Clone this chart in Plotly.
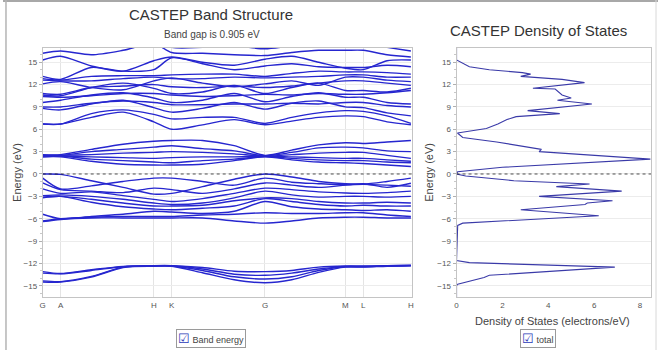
import plotly.graph_objects as go

W, H = 660, 350

# ---------------- data ----------------
# k-path sample positions (path length units) and high-symmetry labels
kpos = [0, 18, 49, 81, 112, 130, 161, 193, 224, 251, 278, 305, 323, 347, 371]
sym_k = [0, 18, 112, 130, 224, 305, 323, 371]
sym_labels = ["G", "A", "H", "K", "G", "M", "L", "H"]

# semicore bands (eV)
semicore_bands = [
    [-13.1, -13.35, -12.85, -12.4, -12.3, -12.3, -12.55, -13.05, -13.1, -12.95, -12.5, -12.35, -12.35, -12.3, -12.25],
    [-13.3, -13.4, -12.95, -12.45, -12.32, -12.32, -12.75, -13.45, -13.6, -13.3, -12.75, -12.4, -12.4, -12.32, -12.28],
    [-14.35, -14.45, -13.75, -12.5, -12.35, -12.35, -12.95, -13.8, -14.1, -13.8, -12.95, -12.45, -12.45, -12.35, -12.3],
    [-14.5, -14.5, -13.85, -12.55, -12.38, -12.38, -13.25, -14.2, -14.6, -14.2, -13.2, -12.5, -12.5, -12.38, -12.32],
]

# valence bands (eV)
valence_bands = [
    [0.0, -0.05, -0.9, -1.8, -2.7, -2.6, -1.7, -0.7, 0.0, -0.4, -1.0, -1.3, -1.35, -1.0, -0.55],
    [-0.55, -2.0, -1.6, -1.0, -0.55, -0.55, -1.0, -1.5, -0.55, -1.1, -1.3, -1.45, -1.4, -1.5, -1.65],
    [-1.2, -2.1, -2.3, -2.5, -1.9, -2.1, -2.6, -2.0, -1.2, -1.5, -1.8, -1.5, -1.3, -1.8, -1.25],
    [-2.0, -2.6, -2.4, -2.9, -3.4, -3.7, -3.3, -2.6, -1.9, -2.1, -2.4, -2.55, -2.6, -2.5, -2.3],
    [-2.9, -2.8, -3.0, -3.4, -3.9, -4.1, -3.9, -3.2, -2.3, -2.8, -3.1, -3.0, -3.0, -3.1, -3.0],
    [-3.1, -3.0, -3.4, -3.9, -4.3, -4.3, -4.2, -3.6, -3.2, -3.3, -3.7, -3.9, -3.9, -3.8, -3.9],
    [-3.2, -3.0, -3.8, -4.4, -4.7, -4.8, -4.6, -4.3, -3.3, -3.7, -4.1, -4.3, -4.2, -4.3, -4.3],
    [-5.4, -6.0, -5.7, -5.4, -5.0, -5.1, -5.3, -5.0, -3.7, -4.4, -4.7, -4.8, -4.9, -4.8, -5.0],
    [-6.3, -6.0, -5.8, -5.7, -5.7, -5.7, -5.5, -5.4, -5.2, -5.3, -5.3, -5.2, -5.2, -5.5, -5.7],
    [-6.4, -6.1, -5.9, -5.9, -5.9, -5.9, -5.9, -6.3, -6.6, -6.3, -5.9, -5.8, -5.8, -5.9, -5.9],
]

# lower conduction bands (eV)
lower_conduction_bands = [
    [2.6, 2.6, 3.3, 4.0, 4.4, 4.5, 4.5, 3.8, 2.5, 3.2, 3.9, 4.2, 4.1, 4.3, 4.5],
    [2.5, 2.5, 3.0, 3.3, 3.6, 3.8, 3.4, 3.1, 2.45, 2.9, 3.5, 3.6, 3.5, 3.1, 3.0],
    [2.5, 2.5, 2.6, 2.8, 2.9, 3.0, 2.9, 2.7, 2.4, 2.6, 2.8, 2.9, 2.9, 2.5, 2.1],
    [2.4, 2.4, 2.3, 2.2, 2.1, 2.2, 2.3, 2.3, 2.4, 2.3, 2.2, 2.1, 2.1, 1.9, 1.7],
    [2.3, 2.4, 2.0, 1.8, 1.6, 1.5, 1.8, 2.0, 2.35, 2.1, 1.9, 1.8, 1.8, 1.6, 1.5],
    [2.3, 2.3, 1.7, 1.3, 1.2, 1.2, 1.3, 1.8, 2.3, 1.9, 1.6, 1.5, 1.4, 1.2, 1.0],
]

# upper conduction bands (eV)
upper_conduction_bands = [
    [6.7, 6.7, 7.6, 8.3, 7.0, 6.0, 6.6, 7.3, 6.6, 7.1, 7.6, 7.8, 7.7, 7.0, 6.6],
    [6.7, 6.7, 8.1, 8.6, 8.0, 7.4, 7.6, 7.6, 6.8, 7.6, 8.2, 8.5, 8.4, 7.8, 6.8],
    [8.8, 8.6, 9.4, 9.9, 8.9, 8.3, 8.8, 9.6, 8.7, 9.5, 9.8, 9.0, 8.9, 8.2, 7.8],
    [9.0, 9.0, 9.5, 9.8, 9.6, 9.3, 9.3, 9.4, 9.4, 9.5, 9.4, 9.6, 9.6, 9.2, 9.0],
    [9.6, 9.9, 10.6, 10.9, 10.2, 9.6, 9.9, 10.8, 9.7, 10.4, 10.9, 10.3, 10.3, 9.6, 9.4],
    [10.4, 10.3, 10.5, 10.8, 10.8, 10.6, 10.4, 10.5, 10.7, 10.6, 10.8, 10.7, 10.7, 10.9, 11.2],
    [10.6, 10.5, 11.6, 12.2, 11.5, 10.8, 11.0, 11.9, 10.8, 11.6, 12.2, 11.2, 11.2, 11.0, 11.5],
    [10.8, 10.7, 11.6, 11.8, 12.0, 11.7, 11.6, 11.8, 11.6, 11.8, 12.2, 12.5, 12.5, 12.2, 11.9],
    [12.1, 12.4, 11.6, 11.3, 12.5, 12.9, 12.2, 11.7, 12.1, 12.5, 11.9, 13.0, 13.0, 12.6, 12.4],
    [12.6, 12.5, 12.5, 12.8, 13.0, 12.8, 12.8, 13.0, 12.9, 13.0, 13.1, 13.3, 13.3, 13.0, 13.0],
    [12.8, 12.6, 13.1, 13.2, 13.2, 13.3, 13.4, 13.4, 13.1, 13.5, 13.8, 13.7, 13.7, 13.6, 13.4],
    [13.1, 12.7, 14.3, 13.8, 14.0, 15.6, 14.8, 14.0, 14.5, 14.8, 14.4, 14.3, 14.3, 14.6, 14.4],
    [15.3, 15.8, 14.5, 13.8, 15.2, 15.7, 15.0, 14.6, 15.4, 15.8, 15.0, 14.2, 14.0, 15.2, 15.3],
    [16.2, 16.5, 16.0, 16.6, 17.5, 16.3, 16.2, 16.0, 15.9, 16.3, 16.6, 16.6, 16.6, 16.0, 15.7],
    [17.5, 17.5, 17.0, 17.5, 18.0, 17.0, 17.0, 17.2, 16.8, 17.2, 17.5, 17.5, 17.5, 17.0, 16.5],
]

# total density of states: energy (eV) and DOS (electrons/eV)
dos_energy = [17.0, 15.3, 14.4, 14.0, 13.6, 13.4, 13.1, 12.7, 12.26, 11.5, 11.4, 10.6, 10.2, 9.9, 9.4,
              8.5, 8.1, 7.7, 7.3, 6.7, 6.1, 5.5, 4.9, 4.3, 3.3, 3.0, 2.0, 0.9, 0.3, 0.0,
              -0.27, -0.9, -1.34, -1.7, -2.3, -3.0, -3.6, -3.9, -4.1, -4.8, -5.6, -6.6, -6.9,
              -11.6, -11.9, -12.5, -13.6, -13.9, -14.8, -15.0, -17.0]
dos_total = [0.0, 0.0, 0.56, 1.43, 2.87, 3.23, 2.8, 4.6, 5.58, 3.33, 4.3, 4.6, 5.0, 4.4, 5.9,
             3.1, 4.5, 2.6, 2.2, 1.8, 1.3, 0.04, 0.27, 1.75, 3.7, 3.6, 8.45, 2.0, 0.05, 0.0,
             0.4, 2.5, 5.8, 4.35, 7.2, 3.6, 6.8, 5.7, 5.6, 2.8, 6.2, 0.27, 0.05,
             0.0, 0.56, 6.9, 1.43, 1.2, 0.05, 0.0, 0.0]

band_gap_text = "Band gap is 0.905 eV"

# ---------------- figure ----------------
BAND_COLOR = "#2626cf"
DOS_COLOR = "#3a3aa8"
FONT = "Liberation Sans"

fig = go.Figure()

for group in (semicore_bands, valence_bands, lower_conduction_bands, upper_conduction_bands):
    for band in group:
        fig.add_trace(go.Scatter(
            x=kpos, y=band, mode="lines",
            line=dict(color=BAND_COLOR, width=1.4, shape="spline", smoothing=0.8),
            xaxis="x", yaxis="y", showlegend=False, hoverinfo="skip"))

fig.add_trace(go.Scatter(
    x=dos_total, y=dos_energy, mode="lines", line=dict(color=DOS_COLOR, width=1.1),
    xaxis="x2", yaxis="y2", showlegend=False, hoverinfo="skip"))

def px_x(p):
    return p / W

def px_y(p):
    return 1 - p / H

yrange = [-16.51, 16.91]
ydom = [px_y(297), px_y(48)]

axis_common = dict(
    showline=True, linecolor="#c4c4c4", linewidth=1, mirror=True,
    zeroline=False, tickfont=dict(family=FONT, size=8, color="#555555"),
)

fig.update_layout(
    width=W, height=H,
    margin=dict(l=0, r=0, t=0, b=0),
    paper_bgcolor="white", plot_bgcolor="white",
    font=dict(family=FONT, color="#333333"),
    showlegend=False,
    xaxis=dict(
        domain=[px_x(40), px_x(412)], range=[0, 372],
        tickmode="array", tickvals=sym_k, ticktext=sym_labels,
        showgrid=True, gridcolor="#e4e4e4", gridwidth=1, ticks="", **axis_common),
    yaxis=dict(
        domain=ydom, range=yrange, tick0=0, dtick=3,
        showgrid=True, gridcolor="#ececec", ticks="outside", ticklen=3, tickcolor="#b0b0b0",
        minor=dict(ticks="outside", ticklen=2, dtick=1, tickcolor="#c8c8c8", showgrid=False),
        anchor="x", **axis_common),
    xaxis2=dict(
        domain=[px_x(457), px_x(653)], range=[0, 8.48], tick0=0, dtick=2,
        showgrid=False, ticks="", anchor="y2", **axis_common),
    yaxis2=dict(
        domain=ydom, range=yrange, tick0=0, dtick=3,
        showgrid=True, gridcolor="#ececec", ticks="outside", ticklen=3, tickcolor="#b0b0b0",
        minor=dict(ticks="outside", ticklen=2, dtick=1, tickcolor="#c8c8c8", showgrid=False),
        anchor="x2", **axis_common),
)

# Fermi level dotted lines
fig.add_shape(type="line", xref="x", yref="y", x0=0, x1=372, y0=0, y1=0,
              line=dict(color="#222222", width=0.8, dash="dot"))
fig.add_shape(type="line", xref="x2", yref="y2", x0=0, x1=8.48, y0=0, y1=0,
              line=dict(color="#222222", width=0.8, dash="dot"))

# window frame
fig.add_shape(type="line", xref="paper", yref="paper", x0=0, x1=1, y0=px_y(1), y1=px_y(1),
              line=dict(color="#a8a8a8", width=2))
fig.add_shape(type="line", xref="paper", yref="paper", x0=px_x(3), x1=px_x(3), y0=0, y1=1,
              line=dict(color="#b4b4b4", width=1.5))
fig.add_shape(type="line", xref="paper", yref="paper", x0=px_x(658), x1=px_x(658), y0=0, y1=1,
              line=dict(color="#d8d8d8", width=1))

def ann(text, x, y, size, color="#333333", angle=0, **kw):
    fig.add_annotation(text=text, x=px_x(x), y=px_y(y), xref="paper", yref="paper",
                       showarrow=False, textangle=angle, xanchor="center", yanchor="middle",
                       font=dict(family=FONT, size=size, color=color), **kw)

ann("CASTEP Band Structure", 210, 15, 15, "#333333")
ann(band_gap_text, 211, 34, 10, "#444444")
ann("CASTEP Density of States", 540, 31, 15, "#333333")
ann("Energy (eV)", 14, 172, 11, "#444444", angle=-90)
ann("Energy (eV)", 429, 172, 11, "#444444", angle=-90)
ann("Density of States (electrons/eV)", 554, 321, 11, "#444444")

# legend boxes
ann('<span style="color:#2a3ab8;font-size:13px">☑</span> Band energy', 210, 338, 9, "#444444",
    bordercolor="#9a9a9a", borderwidth=1, borderpad=1, bgcolor="white")
ann('<span style="color:#2a3ab8;font-size:13px">☑</span> total', 539, 338, 9, "#444444",
    bordercolor="#9a9a9a", borderwidth=1, borderpad=1, bgcolor="white")

fig.write_html("out.html")
